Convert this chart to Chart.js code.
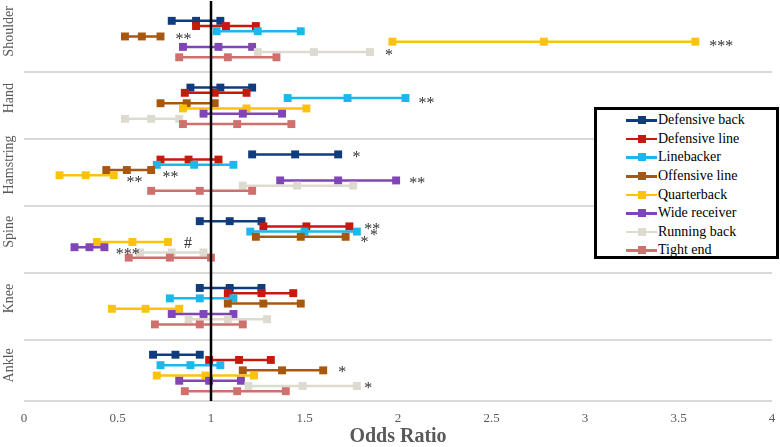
<!DOCTYPE html>
<html>
<head>
<meta charset="utf-8">
<script src="https://cdn.jsdelivr.net/npm/chart.js@4.4.1/dist/chart.umd.min.js"></script>
<style>
  body { margin: 0; background: #fff; }
  #wrap { position: relative; width: 780px; height: 447px; }
  #legend {
    position: absolute; left: 594px; top: 107px; width: 185px; height: 152px;
    box-sizing: border-box; border: 3px solid #000; background: #fff; padding-top: 1px;
    font: 14px "Liberation Serif", serif; color: #000;
  }
  .item { display: flex; align-items: center; height: 18.6px; white-space: nowrap; }
  .key { position: relative; width: 31px; height: 10px; margin-left: 29px; margin-right: 1px; flex: none; }
  .key .ln { position: absolute; left: 0; right: 0; top: 4px; height: 2.5px; }
  .key .sq { position: absolute; left: 11.5px; top: 1px; width: 8px; height: 8px; }
</style>
</head>
<body>
<div id="wrap">
  <canvas id="chart" width="780" height="447"></canvas>
  <div id="legend"></div>
</div>
<script>
const regions = ['Shoulder', 'Hand', 'Hamstring', 'Spine', 'Knee', 'Ankle'];
const positions = ['Defensive back', 'Defensive line', 'Linebacker', 'Offensive line',
  'Quarterback', 'Wide receiver', 'Running back', 'Tight end'];
const colors = ['#103c7e', '#c8190f', '#1db8eb', '#a8580e', '#fdc20e', '#8045b8', '#dddbd0', '#d0706e'];

// [lower CI, odds ratio, upper CI] per region, top to bottom
const defensiveBack = [[0.79, 0.92, 1.05], [0.89, 1.05, 1.22], [1.22, 1.45, 1.68], [0.94, 1.10, 1.27], [0.94, 1.10, 1.27], [0.69, 0.81, 0.94]];
const defensiveLine = [[0.92, 1.08, 1.24], [0.86, 1.02, 1.19], [0.73, 0.88, 1.04], [1.28, 1.51, 1.74], [1.09, 1.27, 1.44], [0.99, 1.15, 1.32]];
const linebacker    = [[1.03, 1.25, 1.48], [1.41, 1.73, 2.04], [0.71, 0.91, 1.12], [1.21, 1.50, 1.78], [0.78, 0.94, 1.12], [0.73, 0.89, 1.05]];
const offensiveLine = [[0.54, 0.63, 0.73], [0.73, 0.87, 1.02], [0.44, 0.55, 0.68], [1.24, 1.48, 1.72], [1.09, 1.28, 1.48], [1.17, 1.38, 1.60]];
const quarterback   = [[1.97, 2.78, 3.59], [0.85, 1.19, 1.51], [0.19, 0.33, 0.48], [0.39, 0.58, 0.77], [0.47, 0.65, 0.83], [0.71, 0.97, 1.23]];
const wideReceiver  = [[0.85, 1.04, 1.22], [0.96, 1.17, 1.38], [1.37, 1.68, 1.99], [0.27, 0.35, 0.43], [0.79, 0.96, 1.12], [0.83, 0.99, 1.16]];
const runningBack   = [[1.25, 1.55, 1.85], [0.54, 0.68, 0.83], [1.17, 1.46, 1.76], [0.62, 0.79, 0.96], [0.88, 1.09, 1.30], [1.20, 1.49, 1.78]];
const tightEnd      = [[0.83, 1.09, 1.35], [0.85, 1.14, 1.43], [0.68, 0.94, 1.22], [0.56, 0.78, 1.00], [0.70, 0.94, 1.17], [0.86, 1.14, 1.40]];
const intervals = [defensiveBack, defensiveLine, linebacker, offensiveLine, quarterback, wideReceiver, runningBack, tightEnd];

const xTicks = [0, 0.5, 1, 1.5, 2, 2.5, 3, 3.5, 4];
const referenceOR = 1;

// significance marks: x = odds ratio where the text starts, y = region row position
const marks = [
  { x: 0.81, y: -0.06, text: '**' },
  { x: 3.665, y: 0.045, text: '***' },
  { x: 1.93, y: 0.18, text: '*' },
  { x: 2.11, y: 0.90, text: '**' },
  { x: 1.757, y: 1.72, text: '*' },
  { x: 0.74, y: 2.02, text: '**' },
  { x: 0.548, y: 2.085, text: '**' },
  { x: 2.06, y: 2.11, text: '**' },
  { x: 1.82, y: 2.785, text: '**' },
  { x: 1.85, y: 2.885, text: '*' },
  { x: 1.80, y: 2.99, text: '*' },
  { x: 0.855, y: 3.06, text: '#' },
  { x: 0.49, y: 3.16, text: '***' },
  { x: 1.68, y: 4.93, text: '*' },
  { x: 1.82, y: 5.18, text: '*' }
];

const Y_MIN = -0.57, Y_MAX = 5.42, ROW_GAP = 0.078;
const rowY = (r, p) => r + (p - (positions.length - 1) / 2) * ROW_GAP;

Chart.defaults.font.family = '"Liberation Serif", serif';

const datasets = positions.map((name, p) => {
  const data = [];
  intervals[p].forEach((ci, r) => {
    ci.forEach(v => data.push({ x: v, y: rowY(r, p) }));
    data.push({ x: null, y: null });
  });
  return {
    label: name,
    data: data,
    borderColor: colors[p],
    backgroundColor: colors[p],
    borderWidth: 2.5,
    pointStyle: 'rect',
    pointRadius: 5.6,
    pointBorderWidth: 0,
    order: positions.length - p
  };
});
datasets.push({
  label: 'OR = 1',
  data: [{ x: referenceOR, y: Y_MIN }, { x: referenceOR, y: Y_MAX }],
  borderColor: '#000',
  borderWidth: 2.5,
  pointRadius: 0,
  order: -1
});

const textPlugin = {
  id: 'textPlugin',
  afterDatasetsDraw(chart) {
    const { ctx, scales: { x, y } } = chart;
    ctx.save();
    ctx.fillStyle = '#595959';
    ctx.font = '14px "Liberation Serif"';
    ctx.textAlign = 'center';
    ctx.textBaseline = 'alphabetic';
    regions.forEach((name, r) => {
      ctx.save();
      ctx.translate(12.5, y.getPixelForValue(r - 0.115));
      ctx.rotate(-Math.PI / 2);
      ctx.fillText(name, 0, 0);
      ctx.restore();
    });
    ctx.fillStyle = '#333';
    ctx.font = '16px "Liberation Serif"';
    ctx.textAlign = 'left';
    marks.forEach(m => {
      const dy = m.text === '#' ? 5 : 8.5;
      ctx.fillText(m.text, x.getPixelForValue(m.x), y.getPixelForValue(m.y) + dy);
    });
    ctx.restore();
  }
};

new Chart(document.getElementById('chart'), {
  type: 'line',
  data: { datasets },
  plugins: [textPlugin],
  options: {
    responsive: false,
    animation: false,
    layout: { autoPadding: false, padding: { top: 1, right: 0, left: 0, bottom: 0 } },
    plugins: { legend: { display: false }, tooltip: { enabled: false } },
    scales: {
      x: {
        type: 'linear',
        min: 0,
        max: 4,
        afterBuildTicks: s => { s.ticks = xTicks.map(v => ({ value: v })); },
        afterFit: s => { s.height = 46; s.paddingLeft = 0; s.paddingRight = 8; },
        grid: { display: false, drawTicks: false },
        border: { display: false },
        ticks: {
          padding: 10,
          color: '#595959',
          font: { family: '"Liberation Serif", serif', size: 13 },
          callback: v => String(v)
        },
        title: {
          display: true,
          text: 'Odds Ratio',
          color: '#595959',
          padding: 0,
          font: { family: '"Liberation Serif", serif', size: 20, weight: 'bold', lineHeight: 1 }
        }
      },
      y: {
        type: 'linear',
        reverse: true,
        min: Y_MIN,
        max: Y_MAX,
        afterBuildTicks: s => { s.ticks = [0.5, 1.5, 2.5, 3.5, 4.5, Y_MAX].map(v => ({ value: v })); },
        afterFit: s => { s.width = 24; },
        ticks: { display: false },
        border: { display: false },
        grid: { color: '#d9d9d9', lineWidth: 2, drawTicks: false }
      }
    }
  }
});

// legend built from the same series
const legend = document.getElementById('legend');
positions.forEach((name, p) => {
  const item = document.createElement('div');
  item.className = 'item';
  item.innerHTML = '<span class="key"><span class="ln" style="background:' + colors[p] +
    '"></span><span class="sq" style="background:' + colors[p] + '"></span></span><span>' + name + '</span>';
  legend.appendChild(item);
});
</script>
</body>
</html>
